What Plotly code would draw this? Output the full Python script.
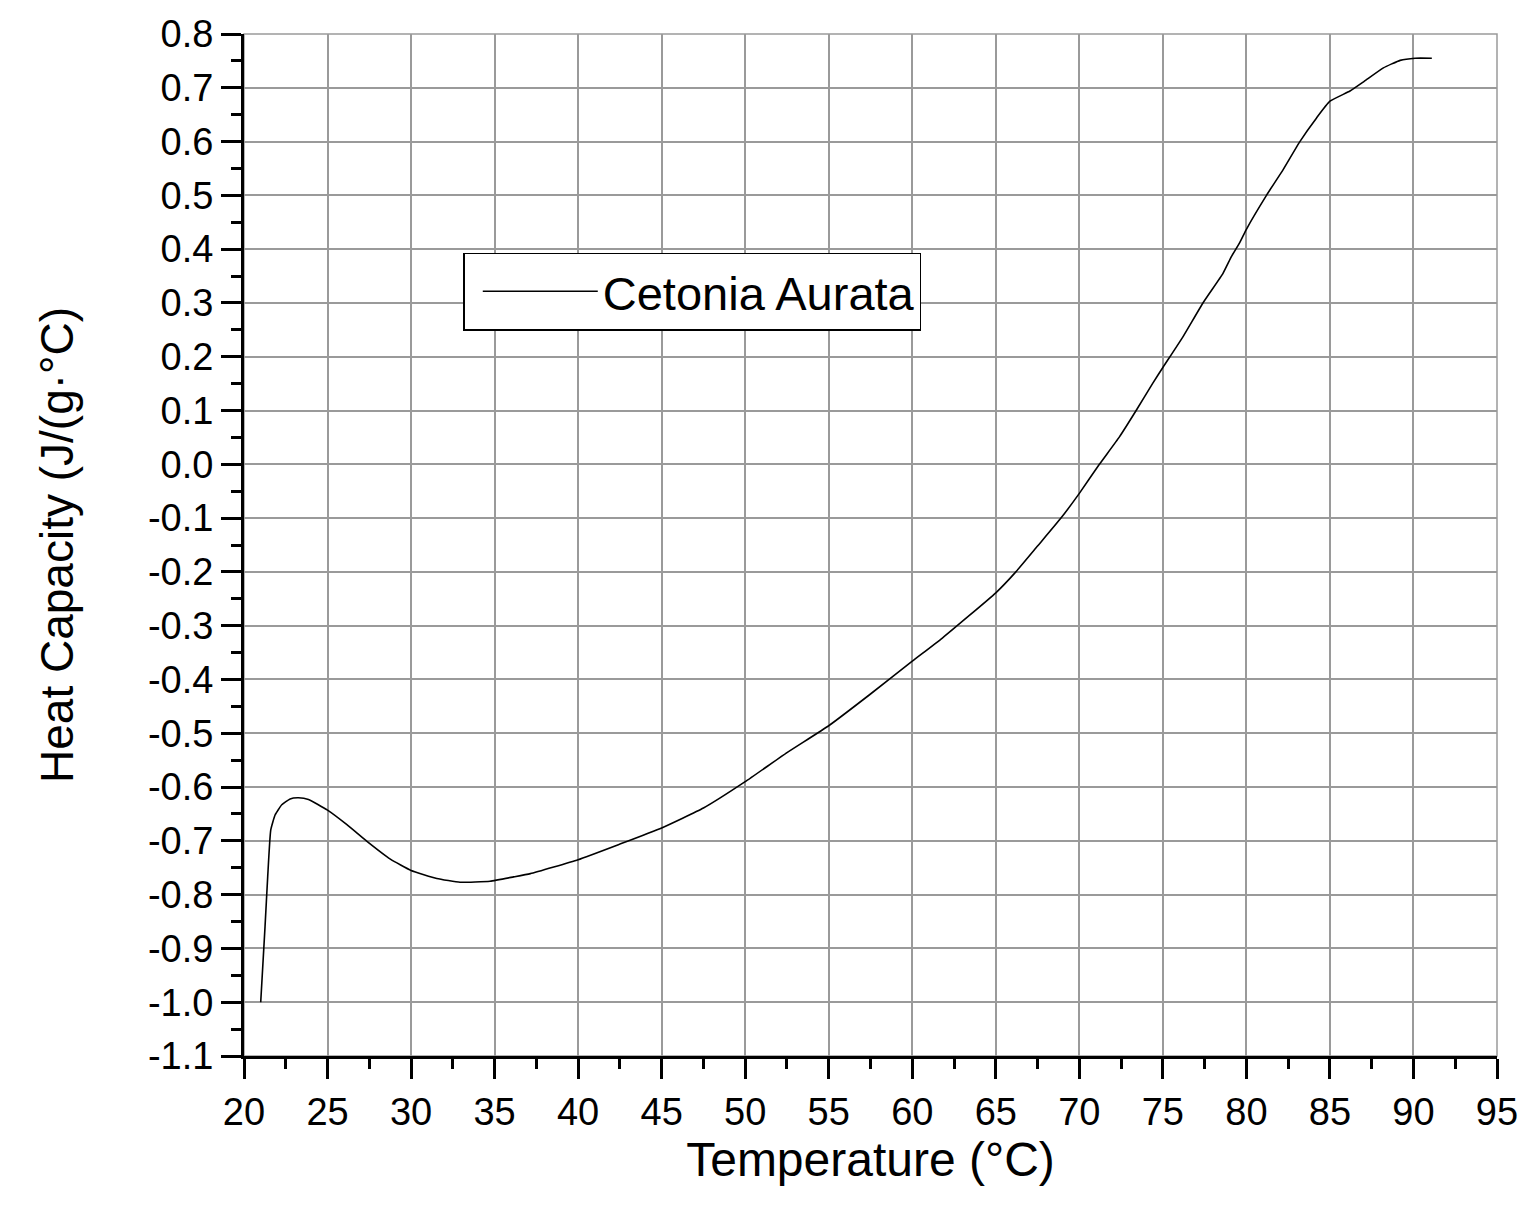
import plotly.graph_objects as go

temperature = [21.0, 21.26, 21.42, 21.6, 21.86, 22.26, 22.76, 23.26, 23.86, 25.0, 26.16, 27.36,
               28.76, 30.0, 31.54, 32.93, 34.73, 36.14, 37.14, 40.0, 42.5, 45.0, 47.5, 50.0,
               52.5, 55.0, 57.5, 60.0, 61.8, 65.0, 66.2, 67.5, 68.9, 70.0, 71.2, 72.4, 73.4,
               74.4, 75.0, 76.2, 77.4, 78.6, 79.1, 79.6, 80.0, 81.2, 82.2, 83.2, 84.2, 85.0,
               86.2, 87.05, 88.2, 89.2, 90.1, 91.1]
heat_capacity = [-1.0, -0.859, -0.766, -0.680, -0.652, -0.633, -0.622, -0.620, -0.623, -0.643,
                 -0.670, -0.701, -0.734, -0.755, -0.770, -0.777, -0.775, -0.767, -0.761, -0.735,
                 -0.706, -0.676, -0.639, -0.590, -0.536, -0.486, -0.427, -0.366, -0.323, -0.239,
                 -0.2, -0.152, -0.1, -0.054, 0.0, 0.051, 0.1, 0.151, 0.180, 0.237, 0.3,
                 0.355, 0.386, 0.412, 0.437, 0.5, 0.548, 0.6, 0.644, 0.675, 0.694, 0.712, 0.737,
                 0.751, 0.755, 0.755]
series_name = "Cetonia Aurata"
x_ticks = list(range(20, 96, 5))
y_ticks = [round(-1.1 + 0.1 * i, 1) for i in range(20)]
y_ticktext = [f"{v:.1f}" for v in y_ticks]

FONT = "Liberation Sans, Arial, sans-serif"

fig = go.Figure()
fig.add_trace(go.Scatter(x=temperature, y=heat_capacity, mode="lines", name=series_name,
                         line=dict(color="black", width=1.6, shape="spline", smoothing=0.4)))

axis_common = dict(
    showline=True, linecolor="black", linewidth=3,
    ticks="outside", ticklen=20, tickwidth=3, tickcolor="black",
    showgrid=True, gridcolor="#9a9a9a", gridwidth=1.5,
    zeroline=False, automargin=False,
    tickfont=dict(family=FONT, size=38, color="black"),
    minor=dict(ticks="outside", ticklen=10, tickwidth=3, tickcolor="black", showgrid=False),
)

fig.update_xaxes(range=[20, 95], tickvals=x_ticks, minor_dtick=2.5,
                 title=dict(text="Temperature (°C)", font=dict(family=FONT, size=48, color="black"), standoff=0),
                 **axis_common)
fig.update_yaxes(range=[-1.1, 0.8], tickvals=y_ticks, ticktext=y_ticktext, minor_dtick=0.05,
                 title=dict(text="Heat Capacity (J/(g·°C)", font=dict(family=FONT, size=46, color="black"), standoff=60),
                 **axis_common)

fig.add_shape(type="rect", xref="paper", yref="paper", x0=0, x1=1, y0=0, y1=1,
              line=dict(color="#9a9a9a", width=1.5), layer="below")

fig.update_layout(
    width=1519, height=1200,
    margin=dict(l=236, r=30, t=26, b=152),
    plot_bgcolor="white", paper_bgcolor="white",
    showlegend=True,
    legend=dict(x=0.175, y=0.786, xanchor="left", yanchor="top",
                bgcolor="white", bordercolor="black", borderwidth=1.5,
                font=dict(family=FONT, size=47, color="black"),
                itemwidth=115, indentation=13),
)

fig.write_html("out.html")
